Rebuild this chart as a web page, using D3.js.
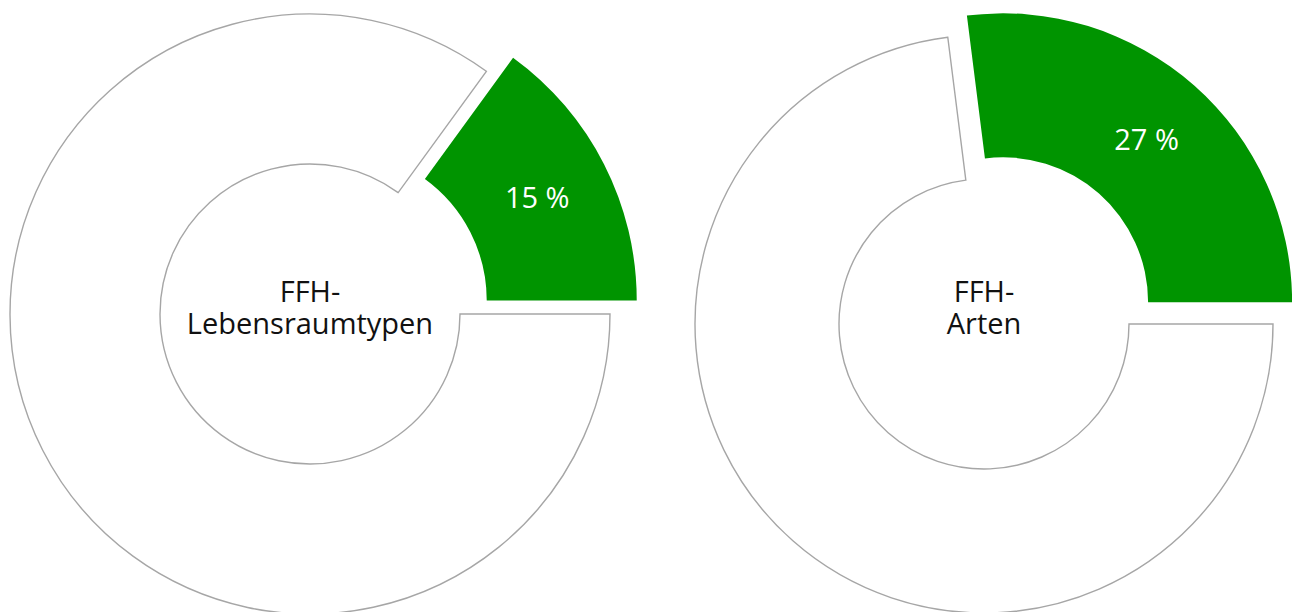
<!DOCTYPE html>
<html>
<head>
<meta charset="utf-8">
<script src="https://cdn.jsdelivr.net/npm/d3@7"></script>
<style>
  html, body { margin: 0; padding: 0; background: #ffffff; }
  svg { display: block; }
</style>
</head>
<body>
<svg id="chart" width="1292" height="612"></svg>
<script>
// Share of each FFH group (percent) and the remaining part of the ring
const groupTitles = [["FFH-", "Lebensraumtypen"], ["FFH-", "Arten"]];
const shareValues = [15, 27];
const restValues = [85, 73];
const sliceKeys = ["rest", "share"];

// Ring geometry for each doughnut
const layout = [
  { cx: 310, cy: 314, outer: 300, inner: 150 },
  { cx: 984, cy: 324, outer: 289, inner: 145 }
];

const green = "#009400";
const ringStroke = "#a6a6a6";
const fontFamily = "'Open Sans', 'Noto Sans', sans-serif";
const fontSize = "29px";

const svg = d3.select("#chart");

// Rest slice starts at 3 o'clock and runs clockwise; the share closes the ring.
const pie = d3.pie()
  .sort(null)
  .value(d => d.value)
  .startAngle(Math.PI / 2)
  .endAngle(Math.PI / 2 + 2 * Math.PI);

groupTitles.forEach((title, i) => {
  const L = layout[i];
  const data = [
    { key: sliceKeys[0], value: restValues[i] },
    { key: sliceKeys[1], value: shareValues[i] }
  ];
  const arcs = pie(data);
  const arc = d3.arc().innerRadius(L.inner).outerRadius(L.outer);
  const explode = L.outer * 0.1;

  const g = svg.append("g").attr("transform", `translate(${L.cx},${L.cy})`);

  const slices = g.selectAll("g.slice")
    .data(arcs)
    .join("g")
    .attr("class", "slice")
    .attr("transform", d => {
      if (d.data.key !== "share") return null;
      const mid = (d.startAngle + d.endAngle) / 2;
      return `translate(${Math.sin(mid) * explode},${-Math.cos(mid) * explode})`;
    });

  slices.append("path")
    .attr("d", arc)
    .attr("fill", d => d.data.key === "share" ? green : "#ffffff")
    .attr("stroke", d => d.data.key === "share" ? "none" : ringStroke)
    .attr("stroke-width", 1.4)
    .attr("stroke-linejoin", "miter");

  // Percentage label on the highlighted slice
  slices.filter(d => d.data.key === "share")
    .append("text")
    .attr("transform", d => `translate(${arc.centroid(d)})`)
    .attr("text-anchor", "middle")
    .attr("dy", "0.35em")
    .attr("fill", "#ffffff")
    .style("font-family", fontFamily)
    .style("font-size", fontSize)
    .text(d => `${d.data.value} %`);

  // Group name in the hole of the ring, one text per line
  title.forEach((line, j) => {
    svg.append("text")
      .attr("x", L.cx)
      .attr("y", 302 + j * 32)
      .attr("text-anchor", "middle")
      .attr("fill", "#111111")
      .style("font-family", fontFamily)
      .style("font-size", fontSize)
      .text(line);
  });
});
</script>
</body>
</html>
